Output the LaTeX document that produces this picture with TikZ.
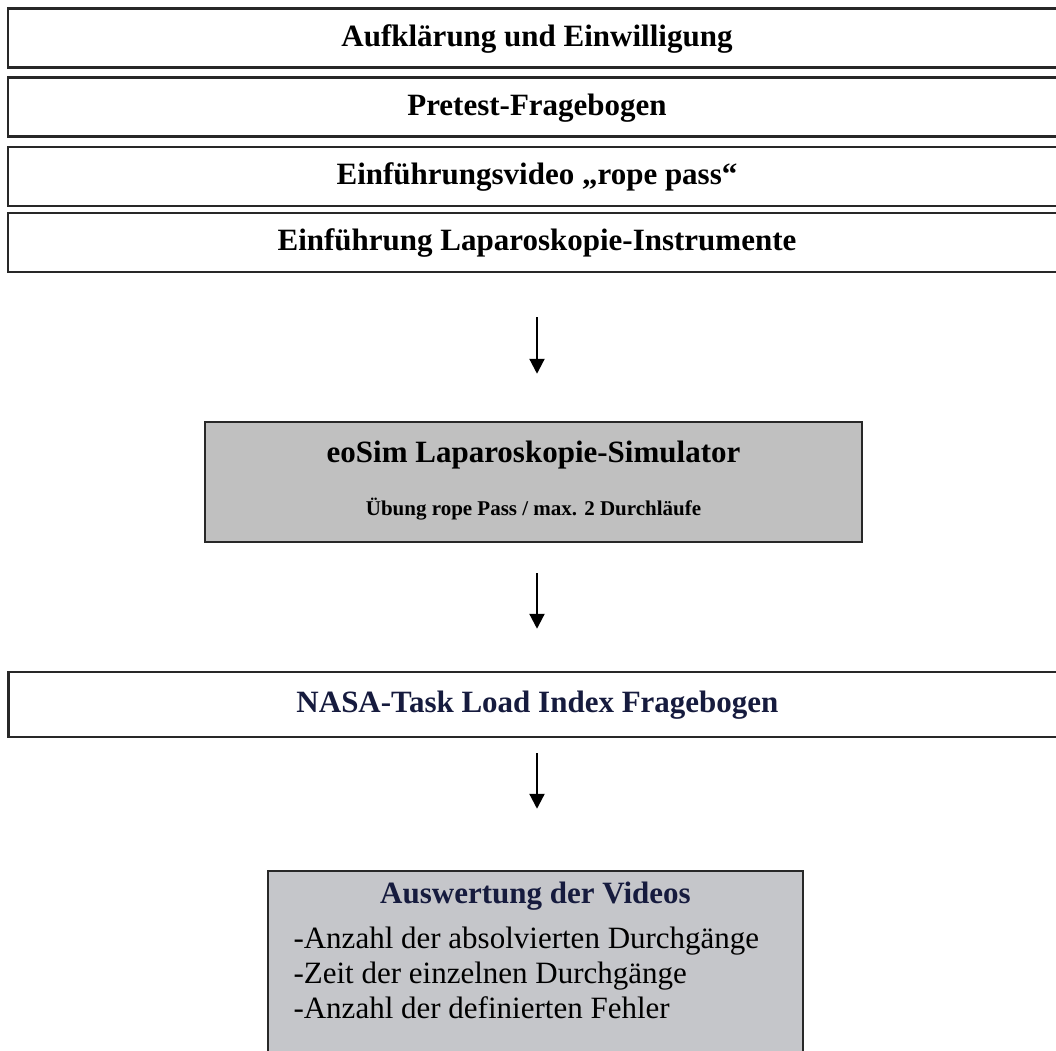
\documentclass[tikz,border=0pt]{standalone}
\usepackage{fontspec}
\setmainfont{Liberation Serif}
\usetikzlibrary{arrows.meta}
\definecolor{rim}{RGB}{40,40,40}
\definecolor{simgray}{RGB}{192,192,192}
\definecolor{evalgray}{RGB}{197,198,202}
\definecolor{navy}{RGB}{22,27,62}

\begin{document}
\begin{tikzpicture}[x=1pt,y=-1pt,
  bar/.style={draw=rim,line width=2.5pt,minimum width=1058pt,minimum height=59pt,inner sep=0pt,
    text height=23pt,text depth=7pt,font=\fontsize{31}{37}\selectfont\bfseries},
  greybox/.style={draw=rim,line width=2.5pt,fill=simgray,inner sep=0pt},
  arr/.style={line width=2.2pt,-{Triangle[length=15pt,width=15pt]}}]
\useasboundingbox (0,0) rectangle (1056,1050);
\node[bar] (consent) at (537,38) {Aufklärung und Einwilligung};
\node[bar] (pretest) at (537,107) {Pretest-Fragebogen};
\node[bar] (video) at (537,176.5) {Einführungsvideo „rope pass“};
\node[bar] (instr) at (537,242.5) {Einführung Laparoskopie-Instrumente};
%simulator
\node[greybox,minimum width=657pt,minimum height=120pt] (sim) at (533.5,482) {};
\node[anchor=base,font=\fontsize{31}{37}\selectfont\bfseries] (simname) at (533.5,462) {eoSim Laparoskopie-Simulator};
\node[anchor=base,font=\fontsize{21}{25}\selectfont\bfseries] (simtask) at (533.5,515) {Übung rope Pass / max. 2 Durchläufe};
\node[bar,minimum height=65pt,text=navy] (nasa) at (537.5,704.5) {NASA-Task Load Index Fragebogen};
%evaluation
\node[greybox,fill=evalgray,minimum width=535pt,minimum height=220pt] (eval) at (535.5,981) {};
\node[anchor=base,text=navy,font=\fontsize{31}{37}\selectfont\bfseries] (evaltitle) at (535.5,903) {Auswertung der Videos};
\foreach \txt [count=\i] in {-Anzahl der absolvierten Durchgänge,-Zeit der einzelnen Durchgänge,-Anzahl der definierten Fehler}
  \node[anchor=base west,font=\fontsize{31}{37}\selectfont] (item\i) at (290,{913+35*\i}) {\txt};
\draw[arr,shorten <=44pt,shorten >=47pt] (instr.south) -- (instr |- sim.north);
\draw[arr,shorten <=30pt,shorten >=42pt] (instr |- sim.south) -- (instr |- nasa.north);
\draw[arr,shorten <=15pt,shorten >=61pt] (instr |- nasa.south) -- (instr |- eval.north);
\end{tikzpicture}
\end{document}
